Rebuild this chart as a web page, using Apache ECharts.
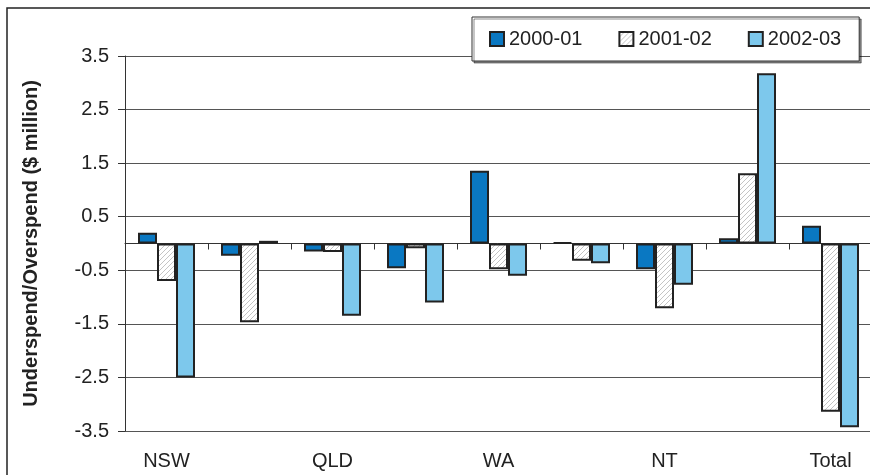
<!DOCTYPE html>
<html>
<head>
    <meta charset="UTF-8">
    <title>Underspend/Overspend</title>
    <script src="https://cdn.jsdelivr.net/npm/echarts@6/dist/echarts.min.js"></script>
    <style>
        html, body {margin: 0; padding: 0; background: #fff;}
        #main {width: 870px; height: 475px;}
    </style>
</head>
<body>
<div id="main"></div>
<script type="text/javascript">
    // data
    var categories = ['NSW', 'Vic', 'QLD', 'SA', 'WA', 'Tas', 'NT', 'ACT', 'Total'];
    var seriesNames = ['2000-01', '2001-02', '2002-03'];
    var y2000 = [0.2, -0.23, -0.15, -0.46, 1.36, 0.02, -0.48, 0.1, 0.33];
    var y2001 = [-0.7, -1.47, -0.16, -0.09, -0.48, -0.32, -1.21, 1.31, -3.14];
    var y2002 = [-2.5, 0.05, -1.35, -1.1, -0.6, -0.37, -0.77, 3.18, -3.43];
    var yTicks = {min: -3.5, max: 3.5, step: 1};

    var font = 'Liberation Sans, Arial, Helvetica, sans-serif';

    // hatch fill for 2001-02
    function hatch() {
        var c = document.createElement('canvas');
        c.width = 5; c.height = 5;
        var ctx = c.getContext('2d');
        ctx.fillStyle = '#fff';
        ctx.fillRect(0, 0, 5, 5);
        ctx.strokeStyle = '#c4c4c4';
        ctx.lineWidth = 1;
        ctx.beginPath();
        ctx.moveTo(-1, 6); ctx.lineTo(6, -1);
        ctx.moveTo(-1, 1); ctx.lineTo(1, -1);
        ctx.moveTo(4, 6); ctx.lineTo(6, 4);
        ctx.stroke();
        return c;
    }

    function bar(name, data, fill) {
        return {
            name: name,
            type: 'bar',
            data: data,
            barWidth: 19,
            barGap: '0%',
            itemStyle: {color: fill, borderColor: '#222', borderWidth: 2}
        };
    }

    var myChart = echarts.init(document.getElementById('main'));
    myChart.setOption({
        animation: false,
        textStyle: {fontFamily: font},
        graphic: [{
            type: 'rect',
            shape: {x: 7, y: 8, width: 900, height: 500},
            style: {fill: 'none', stroke: '#222', lineWidth: 1.5},
            z: -1
        }],
        legend: {
            left: 472,
            top: 17,
            padding: [12, 18, 12, 17],
            itemGap: 36,
            itemWidth: 14,
            itemHeight: 14,
            icon: 'rect',
            backgroundColor: '#fff',
            borderColor: '#333',
            borderWidth: 1,
            shadowColor: 'rgba(0,0,0,0.45)',
            shadowOffsetX: 2,
            shadowOffsetY: 2,
            shadowBlur: 0,
            textStyle: {fontSize: 20, color: '#222', fontFamily: font},
            data: seriesNames
        },
        grid: {left: 125, right: -2, top: 56, bottom: 44, outerBoundsMode: 'none', containLabel: false},
        // axis line sits on zero, labels stay at the bottom of the plot
        xAxis: {
            type: 'category',
            data: categories,
            axisLine: {show: true, onZero: true, lineStyle: {color: '#333', width: 1}},
            axisTick: {show: true, interval: 0, length: 6, lineStyle: {color: '#333', width: 1}},
            axisLabel: {interval: 1, fontSize: 20, color: '#222', margin: 20}
        },
        yAxis: {
            type: 'value',
            min: yTicks.min,
            max: yTicks.max,
            interval: yTicks.step,
            name: 'Underspend/Overspend ($ million)',
            nameLocation: 'middle',
            nameRotate: 90,
            nameGap: 84,
            nameTextStyle: {fontSize: 20, fontWeight: 'bold', color: '#222'},
            axisLine: {show: true, onZero: false, lineStyle: {color: '#333'}},
            axisTick: {show: true, length: 7, lineStyle: {color: '#333'}},
            axisLabel: {fontSize: 20, color: '#222', margin: 16},
            splitLine: {lineStyle: {color: '#555', width: 1}}
        },
        series: [
            bar(seriesNames[0], y2000, '#0a78c2'),
            bar(seriesNames[1], y2001, {image: hatch(), repeat: 'repeat'}),
            bar(seriesNames[2], y2002, '#7dc8ec')
        ]
    });
</script>
</body>
</html>
